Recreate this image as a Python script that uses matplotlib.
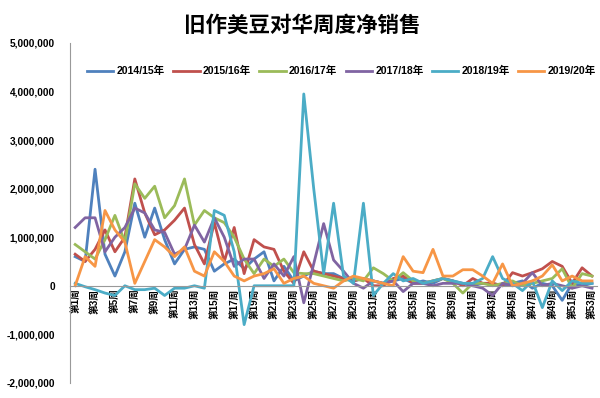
import numpy as np
import matplotlib
matplotlib.use('Agg')
import matplotlib.pyplot as plt
from matplotlib.ticker import FuncFormatter

plt.rcParams['font.family'] = ['Liberation Sans', 'Noto Sans CJK SC', 'DejaVu Sans']

weeks = list(range(1, 54))
week_labels = ['第%d周' % w for w in weeks]

# weekly net sales, in millions
s2014 = [0.60, 0.50, 2.40, 0.65, 0.20, 0.70, 1.70, 1.00, 1.60, 0.95,
         0.45, 0.75, 0.80, 0.75, 0.30, 0.45, 0.55, 0.35, 0.55, 0.70,
         0.10, 0.40, 0.10, 0.20, 0.30, 0.25, 0.25, 0.15, 0.10, 0.15,
         0.10, 0.05, 0.10, 0.15, 0.05, 0.10, 0.05, 0.15, 0.10, 0.05,
         0.00, 0.05, 0.05, 0.00, 0.05, 0.10, -0.05, 0.05, 0.00, -0.30,
         0.05, 0.00, 0.05]
s2015 = [0.65, 0.50, 0.75, 1.15, 0.70, 1.00, 2.20, 1.50, 1.05, 1.15,
         1.35, 1.60, 0.85, 0.45, 1.30, 0.50, 1.20, 0.25, 0.95, 0.80,
         0.75, 0.30, 0.05, 0.70, 0.30, 0.25, 0.20, 0.15, 0.10, 0.15,
         0.00, 0.00, 0.15, 0.20, 0.05, 0.05, 0.10, 0.15, 0.10, 0.00,
         0.15, 0.05, 0.05, 0.00, 0.27, 0.20, 0.27, 0.35, 0.50, 0.40,
         0.05, 0.37, 0.20]
s2016 = [0.85, 0.70, 0.55, 0.95, 1.45, 0.90, 2.10, 1.80, 2.05, 1.40,
         1.65, 2.20, 1.25, 1.55, 1.40, 1.30, 1.00, 0.55, 0.25, 0.55,
         0.40, 0.55, 0.27, 0.25, 0.25, 0.20, 0.15, 0.10, 0.15, 0.10,
         0.37, 0.25, 0.10, 0.27, 0.10, 0.05, 0.10, 0.15, 0.05, -0.15,
         0.05, 0.05, 0.00, 0.05, 0.10, 0.00, 0.05, 0.10, 0.15, 0.35,
         -0.05, 0.25, 0.20]
s2017 = [1.20, 1.40, 1.40, 0.70, 1.00, 1.20, 1.60, 1.50, 1.15, 1.10,
         0.65, 0.75, 1.25, 0.90, 1.40, 1.00, 0.40, 0.55, 0.55, 0.15,
         0.45, 0.20, 0.60, -0.35, 0.45, 1.28, 0.53, 0.30, 0.05, -0.05,
         0.10, 0.05, 0.10, -0.12, 0.05, 0.05, 0.00, 0.05, 0.05, 0.05,
         0.00, -0.05, -0.20, 0.05, 0.00, 0.05, 0.27, 0.00, 0.05, 0.00,
         -0.05, 0.00, -0.05]
s2018 = [0.05, -0.02, -0.08, -0.15, -0.20, 0.00, -0.08, -0.08, -0.05, -0.20,
         -0.05, -0.05, 0.00, -0.05, 1.55, 1.45, 0.70, -0.80, 0.00, 0.00,
         0.00, 0.00, 0.00, 3.95, 2.00, 0.25, 1.70, 0.20, 0.05, 1.70,
         -0.20, 0.05, 0.25, 0.10, 0.15, 0.05, 0.10, 0.15, 0.10, 0.05,
         0.05, 0.15, 0.60, 0.15, 0.05, -0.10, 0.10, -0.45, 0.10, -0.10,
         0.10, 0.05, 0.05]
s2019 = [0.00, 0.60, 0.40, 1.55, 1.15, 0.90, 0.05, 0.50, 0.95, 0.80,
         0.60, 0.80, 0.30, 0.20, 0.70, 0.50, 0.20, 0.10, 0.20, 0.25,
         0.35, 0.05, 0.15, 0.20, 0.05, 0.00, -0.05, 0.10, 0.20, 0.15,
         0.10, 0.05, 0.00, 0.60, 0.30, 0.27, 0.75, 0.20, 0.20, 0.33,
         0.33, 0.20, 0.05, 0.45, 0.00, 0.05, 0.10, 0.20, 0.43, 0.10,
         0.20, 0.10, 0.10]

series = [
    ('2014/15年', s2014, '#4F81BD'),
    ('2015/16年', s2015, '#C0504D'),
    ('2016/17年', s2016, '#9BBB59'),
    ('2017/18年', s2017, '#8064A2'),
    ('2018/19年', s2018, '#4BACC6'),
    ('2019/20年', s2019, '#F79646'),
]

fig = plt.figure(figsize=(6, 3.98), dpi=100)
ax = fig.add_axes([0.117, 0.038, 0.878, 0.854])

# spine position first, it resets tick label settings
ax.spines['top'].set_visible(False)
ax.spines['right'].set_visible(False)
ax.spines['bottom'].set_position(('data', 0))
ax.spines['bottom'].set_color('#999999')
ax.spines['left'].set_color('#999999')

for name, vals, color in series:
    ax.plot(weeks, np.array(vals) * 1e6, color=color, lw=2.0, label=name)

ax.set_xlim(0.5, 53.5)
ax.set_ylim(-2e6, 5e6)
ax.set_yticks(np.arange(-2e6, 5.1e6, 1e6))
ax.yaxis.set_major_formatter(FuncFormatter(lambda v, p: '{:,.0f}'.format(v)))

ax.set_xticks(weeks[::2])
ax.set_xticklabels(week_labels[::2])
ax.tick_params(axis='x', length=0, pad=2)
ax.tick_params(axis='y', length=0, pad=11)
plt.setp(ax.get_xticklabels(), rotation=90, fontsize=7, fontweight='bold',
         va='top', ha='center')
plt.setp(ax.get_yticklabels(), fontsize=7.3, fontweight='bold')

leg = ax.legend(loc='upper center', bbox_to_anchor=(0.515, 0.96), ncol=6,
                frameon=False, fontsize=7.6, handlelength=2.5,
                columnspacing=0.8, handletextpad=0.3)
for t in leg.get_texts():
    t.set_fontweight('bold')

fig.text(0.503, 0.937, '旧作美豆对华周度净销售', ha='center', va='center',
         fontsize=15.5, fontweight='bold', family=['Noto Sans CJK SC'])

fig.savefig('out.png', dpi=100)
